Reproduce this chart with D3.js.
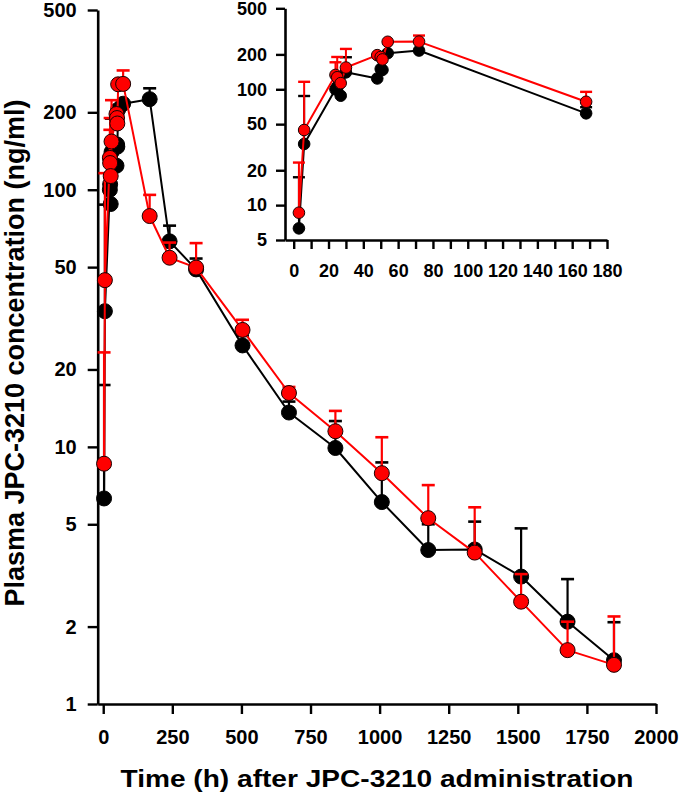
<!DOCTYPE html>
<html>
<head>
<meta charset="utf-8">
<script src="https://cdn.jsdelivr.net/npm/d3@7"></script>
<style>
  html, body { margin: 0; padding: 0; background: #fff; }
  svg { display: block; font-family: "Liberation Sans", Arial, sans-serif; font-weight: bold; }
</style>
</head>
<body>
<svg id="chart" width="680" height="796"></svg>
<script>
// ---- Data ----
const mainTime = [3, 6, 24, 25, 27, 30, 48, 50, 51, 54, 72, 168, 240, 336, 504, 672, 840, 1008, 1176, 1344, 1512, 1680, 1848];
const mainBlack = [6.3, 33.7, 100, 105, 88, 140, 124, 150, 147, 205, 216, 225, 63, 49, 24.8, 13.6, 9.9, 6.1, 3.97, 3.99, 3.13, 2.09, 1.48];
const mainBlackUpper = [17.4, 87.5, null, null, null, 189, null, null, null, null, null, 248, 72.5, 54, 27, 15, 12.6, 8.7, 5, 5.12, 4.82, 3.06, 2.08];
const mainRed = [8.6, 44.5, 133, 127, 113, 154, 197, 190, 181, 257, 258, 79, 54.4, 49.8, 28.5, 16.2, 11.5, 7.9, 5.28, 3.88, 2.5, 1.62, 1.42];
const mainRedUpper = [23.3, 116, 171, 190, null, 223, null, null, null, null, 291, 95.5, 62.3, 62, 31.2, 17.1, 13.8, 10.9, 7.1, 5.82, 3.2, 2.09, 2.19];

const insetTime = [3, 6, 24, 25, 27, 30, 48, 50, 51, 54, 72, 168];
const insetBlack = [6.3, 33.7, 100, 105, 88, 140, 124, 150, 147, 205, 216, 62];
const insetBlackUpper = [17.4, 87.5, null, null, null, 189, null, null, null, null, null, 70];
const insetRed = [8.6, 44.5, 133, 127, 113, 154, 197, 190, 181, 257, 258, 78];
const insetRedUpper = [23.3, 116, 171, 190, null, 223, null, null, null, null, 291, 95];

const mainYTicks = [1, 2, 5, 10, 20, 50, 100, 200, 500];
const mainXTicks = [0, 250, 500, 750, 1000, 1250, 1500, 1750, 2000];
const insetYTicks = [5, 10, 20, 50, 100, 200, 500];
const insetXTicks = d3.range(0, 181, 10);

const xTitle = "Time (h) after JPC-3210 administration";
const yTitle = "Plasma JPC-3210 concentration (ng/ml)";

// ---- Drawing ----
const svg = d3.select("#chart");
svg.append("rect").attr("width", 680).attr("height", 796).attr("fill", "#fff");

function drawPanel(cfg) {
  const g = svg.append("g");
  const x = cfg.x, y = cfg.y;

  const xAxis = d3.axisBottom(x).tickValues(cfg.xTicks).tickSize(cfg.tick).tickSizeOuter(0)
    .tickPadding(cfg.xPad).tickFormat(cfg.xFmt);
  const yAxis = d3.axisLeft(y).tickValues(cfg.yTicks).tickSize(cfg.tick).tickSizeOuter(0)
    .tickPadding(cfg.yPad).tickFormat(d3.format("d"));

  const gx = g.append("g").attr("transform", `translate(0,${y.range()[0]})`).call(xAxis);
  const gy = g.append("g").attr("transform", `translate(${x.range()[0]},0)`).call(yAxis);
  [gx, gy].forEach(a => {
    a.selectAll("path.domain").attr("stroke", "#000").attr("stroke-width", 2.6);
    a.selectAll(".tick line").attr("stroke", "#000").attr("stroke-width", 2.4);
    a.selectAll(".tick text").attr("fill", "#000").style("font-size", cfg.font + "px")
      .style("font-weight", "bold").style("font-family", '"Liberation Sans", Arial, sans-serif');
  });

  const series = [
    { t: cfg.time, v: cfg.black, u: cfg.blackUp, color: "#000000", fill: "#000000", stroke: "#000000" },
    { t: cfg.time, v: cfg.red, u: cfg.redUp, color: "#ff0000", fill: "#ff0000", stroke: "#1a0000" }
  ];
  series.forEach(s => {
    const pts = s.t.map((t, i) => ({ t, v: s.v[i], u: s.u[i] }));
    const line = d3.line().x(d => x(d.t)).y(d => y(d.v));
    g.append("path").datum(pts).attr("d", line).attr("fill", "none")
      .attr("stroke", s.color).attr("stroke-width", cfg.lw).attr("stroke-linejoin", "round");
    const eb = pts.filter(d => d.u != null);
    g.selectAll(null).data(eb).enter().append("line")
      .attr("x1", d => x(d.t)).attr("x2", d => x(d.t))
      .attr("y1", d => y(d.v)).attr("y2", d => y(d.u))
      .attr("stroke", s.color).attr("stroke-width", cfg.ew);
    g.selectAll(null).data(eb).enter().append("line")
      .attr("x1", d => x(d.t) - cfg.cap / 2).attr("x2", d => x(d.t) + cfg.cap / 2)
      .attr("y1", d => y(d.u)).attr("y2", d => y(d.u))
      .attr("stroke", s.color).attr("stroke-width", cfg.ew + 0.4);
    g.selectAll(null).data(pts).enter().append("circle")
      .attr("cx", d => x(d.t)).attr("cy", d => y(d.v)).attr("r", cfg.r)
      .attr("fill", s.fill).attr("stroke", s.stroke).attr("stroke-width", 1);
  });
  return g;
}

// Main panel
const xMain = d3.scaleLinear().domain([-20, 2000]).range([97.7, 656]);
const yMain = d3.scaleLog().domain([1, 500]).range([704, 10]);
drawPanel({
  x: xMain, y: yMain, xTicks: mainXTicks, yTicks: mainYTicks, tick: 10,
  xPad: 16, yPad: 11, font: 20, xFmt: d3.format("d"),
  time: mainTime, black: mainBlack, blackUp: mainBlackUpper, red: mainRed, redUp: mainRedUpper,
  lw: 2, ew: 2.2, cap: 13, r: 7.5
});

// Inset panel
const xIn = d3.scaleLinear().domain([-5, 180]).range([285, 607]);
const yIn = d3.scaleLog().domain([5, 500]).range([240, 8.3]);
drawPanel({
  x: xIn, y: yIn, xTicks: insetXTicks, yTicks: insetYTicks, tick: 9,
  xPad: 15, yPad: 9, font: 18, xFmt: d => (d % 20 === 0 ? d : ""),
  time: insetTime, black: insetBlack, blackUp: insetBlackUpper, red: insetRed, redUp: insetRedUpper,
  lw: 2, ew: 2, cap: 12, r: 5.8
});

// Axis titles
svg.append("text").attr("x", 377).attr("y", 787).attr("text-anchor", "middle")
  .style("font-size", "24px").attr("textLength", 513).attr("lengthAdjust", "spacingAndGlyphs")
  .text(xTitle);
svg.append("text").attr("transform", "translate(24,353) rotate(-90)").attr("text-anchor", "middle")
  .style("font-size", "27px")
  .text(yTitle);
</script>
</body>
</html>
